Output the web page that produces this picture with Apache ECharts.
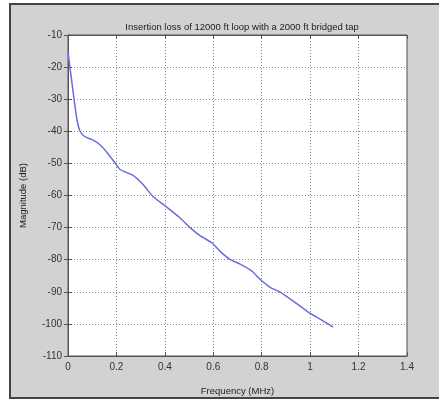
<!DOCTYPE html>
<html><head><meta charset="utf-8">
<script src="https://cdn.jsdelivr.net/npm/echarts@6/dist/echarts.min.js"></script>
<style>html,body{margin:0;padding:0;background:#fff}#c{width:439px;height:401px}</style>
</head><body><div id="c"></div>
<script>
var titleText = 'Insertion loss of 12000 ft loop with a 2000 ft bridged tap';
var xLabel = 'Frequency (MHz)';
var yLabel = 'Magnitude (dB)';
var freqMHz = [0, 0.008, 0.025, 0.037, 0.05, 0.07, 0.10, 0.132, 0.16, 0.194, 0.215, 0.27, 0.31, 0.351, 0.409, 0.463, 0.504, 0.545, 0.595, 0.628, 0.669, 0.711, 0.76, 0.793, 0.835, 0.876, 0.93, 0.992, 1.041, 1.095];
var magDb = [-15.3, -20, -30, -36.4, -40, -41.7, -42.6, -44.2, -46.5, -49.8, -51.9, -53.8, -56.6, -60.3, -63.7, -67.0, -70.0, -72.5, -74.8, -77.4, -79.9, -81.4, -83.6, -86.1, -88.6, -90.1, -92.9, -96.3, -98.5, -101];

var pts = freqMHz.map(function(f, i){ return [f, magDb[i]]; });
var chart = echarts.init(document.getElementById('c'));
var font = 'Liberation Sans, Arial, sans-serif';
var axisCol = '#555';
chart.setOption({
  animation: false,
  backgroundColor: '#fff',
  graphic: [{
    type: 'rect', z: -10, silent: true,
    shape: { x: 10, y: 4, width: 440, height: 394 },
    style: { fill: '#d2d2d2', stroke: '#444', lineWidth: 2 }
  }],
  title: {
    text: titleText, left: 237, top: 17, textAlign: 'center',
    textStyle: { fontSize: 9.5, fontWeight: 'normal', color: '#222', fontFamily: font }
  },
  grid: { left: 68, right: 32, top: 35, bottom: 44, show: true, backgroundColor: '#fff', borderColor: axisCol, borderWidth: 1 },
  xAxis: [{
    type: 'value', min: 0, max: 1.4, interval: 0.2,
    name: xLabel, nameLocation: 'middle', nameGap: 30,
    nameTextStyle: { fontSize: 9.5, color: '#222', fontFamily: font },
    axisLine: { show: true, lineStyle: { color: axisCol } },
    axisTick: { show: true, inside: true, length: 4, lineStyle: { color: axisCol } },
    axisLabel: { fontSize: 10, color: '#333', margin: 6, fontFamily: font,
      formatter: function(v){ return String(Math.round(v*10)/10); } },
    splitLine: { show: true, lineStyle: { color: '#888', type: [1, 2], width: 1 } }
  }, {
    type: 'value', min: 0, max: 1.4, interval: 0.2, position: 'top',
    axisLine: { show: true, lineStyle: { color: axisCol } },
    axisTick: { show: true, inside: true, length: 4, lineStyle: { color: axisCol } },
    axisLabel: { show: false }, splitLine: { show: false }
  }],
  yAxis: [{
    type: 'value', min: -110, max: -10, interval: 10,
    name: yLabel, nameLocation: 'middle', nameGap: 40, nameRotate: 90,
    nameTextStyle: { fontSize: 9.5, color: '#222', fontFamily: font },
    axisLine: { show: true, lineStyle: { color: axisCol } },
    axisTick: { show: true, inside: true, length: 4, lineStyle: { color: axisCol } },
    axisLabel: { fontSize: 10, color: '#333', margin: 6, fontFamily: font },
    splitLine: { show: true, lineStyle: { color: '#888', type: [1, 2], width: 1 } }
  }, {
    type: 'value', min: -110, max: -10, interval: 10, position: 'right',
    axisLine: { show: true, lineStyle: { color: axisCol } },
    axisTick: { show: true, inside: true, length: 4, lineStyle: { color: axisCol } },
    axisLabel: { show: false }, splitLine: { show: false }
  }],
  series: [{
    type: 'line', data: pts, showSymbol: false, smooth: 0.2,
    lineStyle: { color: '#6b6be0', width: 1.5 }
  }]
});
</script></body></html>
